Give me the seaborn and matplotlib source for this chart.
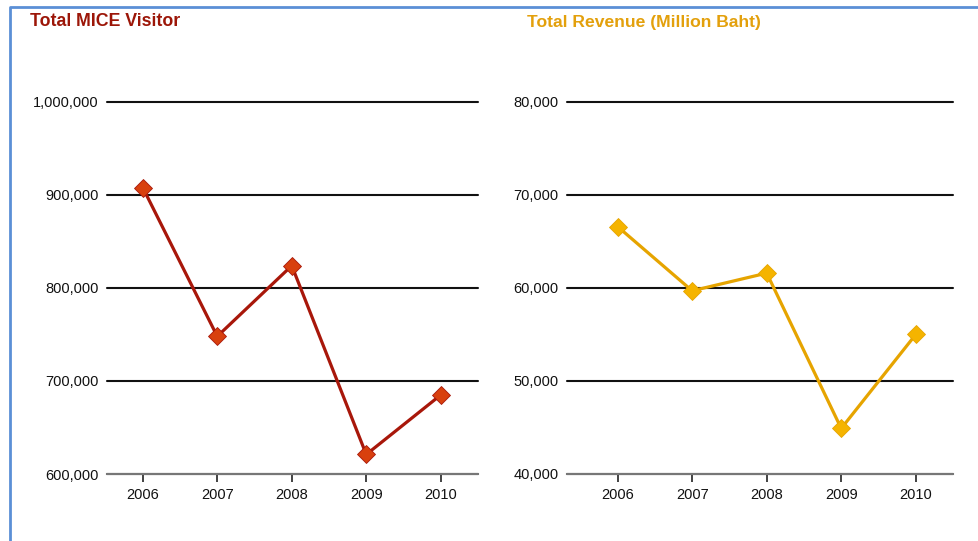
import matplotlib
matplotlib.use('Agg')
import pandas as pd
import seaborn as sns
from matplotlib import pyplot as plt
from matplotlib.lines import Line2D
from matplotlib.ticker import FuncFormatter

years = [2006, 2007, 2008, 2009, 2010]
visitors = [908000, 748000, 824000, 621000, 685000]
revenue = [66600, 59700, 61600, 44900, 55000]
visitor_ticks = [600000, 700000, 800000, 900000, 1000000]
revenue_ticks = [40000, 50000, 60000, 70000, 80000]

sns.set_style('white')
plt.rcParams['font.family'] = ['Liberation Sans', 'DejaVu Sans']

df = pd.DataFrame({'year': years, 'visitors': visitors, 'revenue': revenue})

fig = plt.figure(figsize=(9.79, 5.41), dpi=100)
ax1 = fig.add_axes([107 / 979, 1 - 474 / 541, 371 / 979, 372 / 541])
ax2 = fig.add_axes([567 / 979, 1 - 474 / 541, 386 / 979, 372 / 541])

panels = [
    (ax1, 'visitors', visitor_ticks, '#a8170a', '#d8400e', (2005.52, 2010.5)),
    (ax2, 'revenue', revenue_ticks, '#e6a400', '#f5b400', (2005.32, 2010.5)),
]

for ax, col, ticks, lc, mc, xl in panels:
    sns.lineplot(data=df, x='year', y=col, ax=ax, color=lc, linewidth=2.3,
                 marker='D', markersize=9, markerfacecolor=mc,
                 markeredgecolor=lc, markeredgewidth=0.6, clip_on=False)
    ax.set_xlim(*xl)
    ax.set_ylim(ticks[0], ticks[-1])
    ax.set_yticks(ticks)
    ax.set_xticks(years)
    ax.yaxis.set_major_formatter(FuncFormatter(lambda v, p: f'{int(v):,}'))
    ax.set_xlabel('')
    ax.set_ylabel('')
    ax.grid(axis='y', color='#111111', linewidth=1.5)
    ax.grid(axis='x', visible=False)
    for gl in ax.get_ygridlines():
        gl.set_clip_on(False)
    for s in ['top', 'left', 'right']:
        ax.spines[s].set_visible(False)
    ax.spines['bottom'].set_color('#777777')
    ax.spines['bottom'].set_linewidth(1.5)
    ax.spines['bottom'].set_zorder(3)
    ax.tick_params(axis='y', length=0, pad=6, labelsize=10.5, colors='#111111')
    ax.tick_params(axis='x', bottom=True, length=6, width=1.2, color='#222222',
                   pad=4, labelsize=10.5, labelcolor='#111111')

fig.text(30 / 979, 1 - 22 / 541, 'Total MICE Visitor', color='#9c1608',
         fontsize=12.8, fontweight='bold', va='center', ha='left')
fig.text(527 / 979, 1 - 22 / 541, 'Total Revenue (Million Baht)', color='#e3a00c',
         fontsize=12.6, fontweight='bold', va='center', ha='left')

# blue frame on left and top
fig.add_artist(Line2D([10 / 979, 10 / 979, 1.0], [0.0, 1 - 7 / 541, 1 - 7 / 541],
                      transform=fig.transFigure, color='#5b8fd6', linewidth=2))

plt.savefig('out.png', dpi=100)
plt.close()
